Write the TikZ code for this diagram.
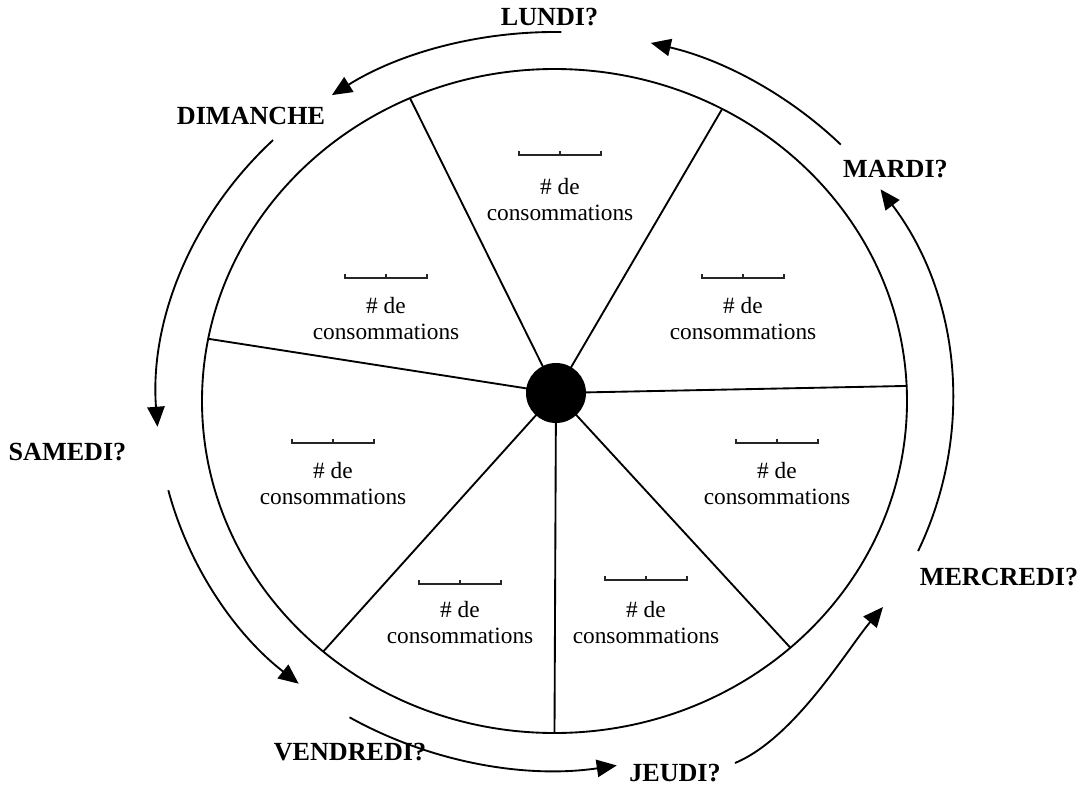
\documentclass[tikz,border=0pt]{standalone}
\usepackage{fontspec}
\setmainfont{Liberation Serif}
\usetikzlibrary{arrows.meta}
\begin{document}
\begin{tikzpicture}[x=0.75pt,y=-0.75pt,
  line/.style={line width=1.4pt},
  arr/.style={line width=1.4pt,-{Triangle[length=15pt,width=13pt]}},
  day/.style={font=\fontsize{19.6}{22}\selectfont\bfseries,inner sep=0pt},
  cons/.style={font=\fontsize{17.5}{19.5}\selectfont,align=center,inner sep=0pt},
  pics/scalebar/.style={code={\draw[line width=1.1pt,black!85] (-41,-4) -- (-41,0) -- (41,0) -- (41,-4) (0,0) -- (0,-4);}}
]
\fill[white] (0,0) rectangle (1086,786);
\useasboundingbox (0,0) rectangle (1086,786);
\coordinate (O) at (554.5,401);
% wheel
\draw[line] (O) ellipse[x radius=352.5,y radius=332];
\node[circle,fill=black,minimum size=45pt,inner sep=0pt] (hub) at (556,393) {};
\foreach \a [count=\i] in {-114.2,-61.6,-2.6,48,90,131,190.8}{
  \path (O) ++(\a:352.5 and 332) coordinate (s\i);
  \draw[line] (hub.center) -- (s\i);
}
% cells
\foreach \x/\by/\ty [count=\i] in {560/155/199.5, 386/278/318.5, 743/278/318.5, 333/443/484, 777/443/484, 460/584/623, 646/580/623}{
  \pic at (\x,\by) {scalebar};
  \node[cons] (c\i) at (\x,\ty) {\# de\\consommations};
}
% day labels
\node[day] (lundi) at (549.5,17.5) {LUNDI?};
\node[day] (dimanche) at (251,116) {DIMANCHE};
\node[day] (mardi) at (895.5,169) {MARDI?};
\node[day] (samedi) at (67.5,452.5) {SAMEDI?};
\node[day] (mercredi) at (999,577) {MERCREDI?};
\node[day] (vendredi) at (350,752.5) {VENDREDI?};
\node[day] (jeudi) at (675,773) {JEUDI?};
% arrows
\path (O) ++(-89:398 and 369) coordinate (a1);
\path (O) ++(-135:398 and 369) coordinate (a2);
\path (O) ++(-194:398 and 369) coordinate (a3);
\path (O) ++(-239:398 and 369) coordinate (a4);
\coordinate (a5) at (735,763);
\coordinate (b5) at (883,607);
\path (O) ++(24:398 and 369) coordinate (a6);
\path (O) ++(-44:398 and 369) coordinate (a7);
\draw[arr] (a1) arc[start angle=-89,end angle=-124,x radius=398,y radius=369];
\draw[arr] (a2) arc[start angle=-135,end angle=-184,x radius=398,y radius=369];
\draw[arr] (a3) arc[start angle=-194,end angle=-230,x radius=398,y radius=369];
\draw[arr] (a4) arc[start angle=-239,end angle=-279,x radius=398,y radius=369];
\draw[arr] (a5) .. controls (795,738) and (848,648) .. (b5);
\draw[arr] (a6) arc[start angle=24,end angle=-35,x radius=398,y radius=369];
\draw[arr] (a7) arc[start angle=-44,end angle=-76,x radius=398,y radius=369];
\end{tikzpicture}
\end{document}
